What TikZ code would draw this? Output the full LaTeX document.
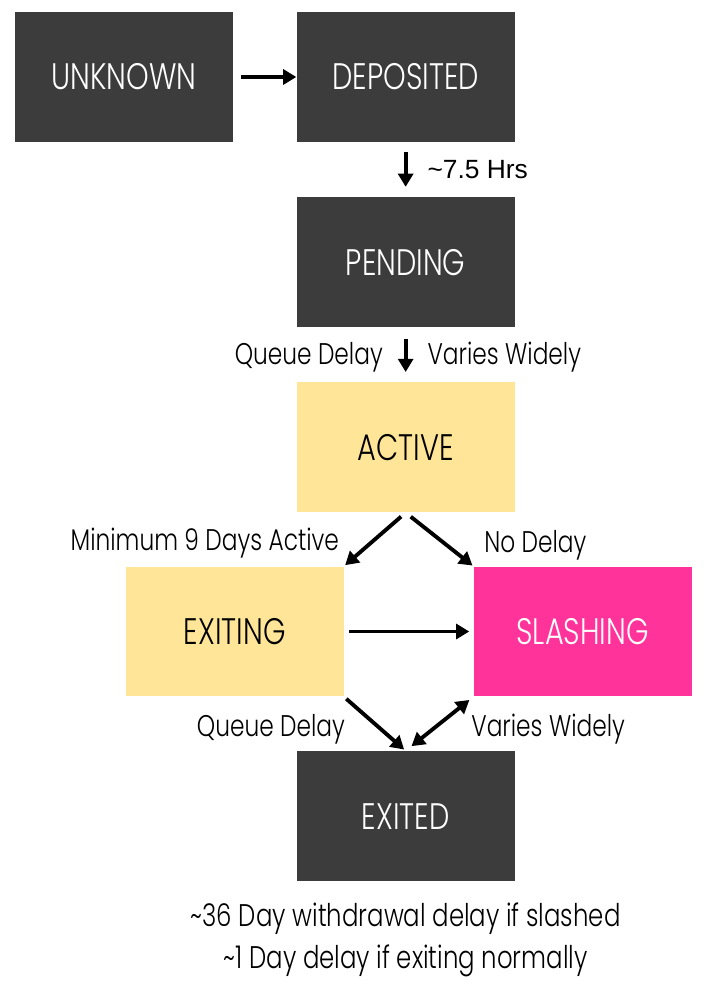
\documentclass[tikz,border=0pt]{standalone}
\usepackage{fontspec}
\setmainfont{Poppins}[UprightFont=* Light, FakeStretch=0.78]
\newfontfamily\hrsfont{Liberation Sans}
\usetikzlibrary{arrows.meta,positioning}
\definecolor{darkbox}{HTML}{3C3C3C}
\definecolor{activebg}{HTML}{FFE597}
\definecolor{slashbg}{HTML}{FF3399}

\begin{document}
\begin{tikzpicture}[x=0.02cm, y=-0.02cm, node distance=1.09cm,
    state/.style={minimum width=4.36cm, minimum height=2.6cm, inner sep=0pt, font=\fontsize{21}{24}\selectfont},
    dark/.style={state, fill=darkbox, text=white},
    soft/.style={state, fill=activebg, text=black},
    lbl/.style={inner sep=0pt, font=\fontsize{17}{20}\selectfont},
    arr/.style={-{Triangle[length=7.5pt, width=8.5pt]}, line width=2.2pt},
    twoway/.style={{Triangle[length=7.5pt, width=8.5pt]}-{Triangle[length=7.5pt, width=8.5pt]}, line width=2.2pt}]
  \useasboundingbox (0,0) rectangle (711,996);

  \node[dark] (unknown) at (124,77) {UNKNOWN};
  \node[dark, right=1.26cm of unknown] (deposited) {DEPOSITED};
  \node[dark, below=of deposited] (pending) {PENDING};
  \node[soft, below=of pending] (active) {ACTIVE};
  \node[soft, below=1.07cm of active, xshift=-3.42cm] (exiting) {EXITING};
  \node[state, fill=slashbg, text=white, below=1.07cm of active, xshift=3.54cm] (slashing) {SLASHING};
  \node[dark, below=1.08cm of exiting, xshift=3.42cm] (exited) {EXITED};

  % notes under the last state
  \node[lbl, font=\fontsize{17.8}{20}\selectfont, below=0.42cm of exited] (note1) {\textasciitilde36 Day withdrawal delay if slashed};
  \node[lbl, font=\fontsize{17.8}{20}\selectfont, below=0.2cm of note1] (note2) {\textasciitilde1 Day delay if exiting normally};

  \draw[arr, shorten <=0.16cm] (unknown) -- (deposited);
  \draw[arr, shorten <=0.2cm, shorten >=0.2cm] (deposited) -- (pending)
    node[midway, right=0.4cm, inner sep=0pt, font=\hrsfont\fontsize{15}{18}\selectfont] (hrs) {\textasciitilde7.5 Hrs};
  \draw[arr, shorten <=0.22cm, shorten >=0.2cm] (pending) -- (active)
    node[lbl, midway, left=0.42cm, yshift=-0.05cm] (queue1) {Queue Delay}
    node[lbl, midway, right=0.4cm, yshift=-0.05cm] (varies1) {Varies Widely};
  \draw[arr, shorten <=0.12cm, shorten >=0.03cm] (active.south) -- (exiting.north east)
    node[lbl, midway, left=0.68cm, yshift=-0.08cm] (minact) {Minimum 9 Days Active};
  \draw[arr, shorten <=0.13cm, shorten >=0.02cm] (active.south) -- (slashing.north west)
    node[lbl, midway, right=0.86cm, yshift=-0.12cm] (nodelay) {No Delay};
  \draw[arr, shorten <=0.1cm, shorten >=0.08cm] (exiting) -- (slashing);
  \draw[arr, shorten <=0.06cm, shorten >=0.04cm] (exiting.south east) -- (exited.north)
    node[lbl, midway, left=0.56cm, yshift=-0.1cm] (queue2) {Queue Delay};
  \draw[twoway, shorten <=0.1cm, shorten >=0.15cm] (slashing.south west) -- (exited.north)
    node[lbl, midway, right=0.6cm, yshift=-0.1cm] (varies2) {Varies Widely};
\end{tikzpicture}
\end{document}
